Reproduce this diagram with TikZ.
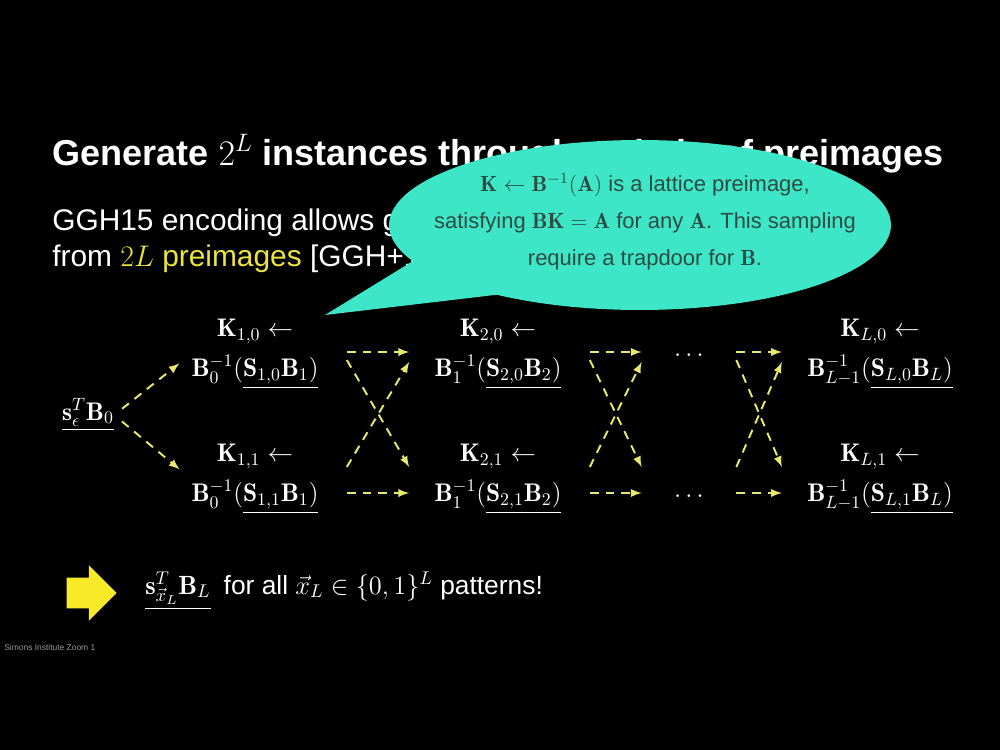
\documentclass[tikz,border=0pt]{standalone}
\usepackage{fix-cm}
\usepackage{amsmath,amssymb}
\usepackage{fontspec}
\setsansfont{Liberation Sans}
\usetikzlibrary{positioning,shapes,arrows}

\definecolor{calloutcyan}{RGB}{62,230,200}
\definecolor{calloutink}{RGB}{45,75,65}
\definecolor{hiyellow}{RGB}{235,228,60}
\definecolor{dashyellow}{RGB}{232,232,110}
\definecolor{bigyellow}{RGB}{248,234,40}

\begin{document}
\begin{tikzpicture}[x=0.02cm, y=-0.02cm,
  slide/.style={inner sep=0pt, text=white, font=\sffamily\fontsize{17}{20}\selectfont},
  mat/.style={inner sep=0pt, text=white, align=center, font=\fontsize{14.5}{22.7}\selectfont},
  flow/.style={draw=dashyellow, line width=1.1pt, dash pattern=on 5pt off 4pt, -latex}]

% Background
\fill[black] (0,0) rectangle (1000,750);

% Title
\node (title) [anchor=base west, inner sep=0pt, text=white, font=\sffamily\bfseries\fontsize{20.5}{24}\selectfont] at (52,165) {Generate $2^L$ instances through a chain of preimages};

% Subtitle
\node (sub1) [slide, anchor=base west] at (52,230) {GGH15 encoding allows generating $2^L$ instances};
\node (sub2) [slide, anchor=base west] at (52,266) {from \textcolor{hiyellow}{$2L$ preimages} [GGH+15]};

% Callout
\node (note) [ellipse callout, fill=calloutcyan, minimum width=10.04cm, minimum height=3.4cm, callout absolute pointer={(325,315)}, callout pointer arc=30] at (640,225) {};
\node (notetext) [align=center, text=calloutink, font=\sffamily\fontsize{12.5}{21}\selectfont] at (645,222) {$\mathbf{K}\leftarrow\mathbf{B}^{-1}(\mathbf{A})$ is a lattice preimage,\\ satisfying $\mathbf{BK}=\mathbf{A}$ for any $\mathbf{A}$. This sampling\\ require a trapdoor for $\mathbf{B}$.};

% Start
\node (s0) [mat] at (88,415) {$\underline{\mathbf{s}_\epsilon^T\mathbf{B}_0}$};

% Column 1
\node (k10) [mat] at (255,354) {$\mathbf{K}_{1,0}\leftarrow$\\ $\mathbf{B}_0^{-1}(\underline{\mathbf{S}_{1,0}\mathbf{B}_1)}$};
\node (k11) [mat] at (255,479) {$\mathbf{K}_{1,1}\leftarrow$\\ $\mathbf{B}_0^{-1}(\underline{\mathbf{S}_{1,1}\mathbf{B}_1)}$};

% Column 2
\node (k20) [mat] at (498,354) {$\mathbf{K}_{2,0}\leftarrow$\\ $\mathbf{B}_1^{-1}(\underline{\mathbf{S}_{2,0}\mathbf{B}_2)}$};
\node (k21) [mat] at (498,479) {$\mathbf{K}_{2,1}\leftarrow$\\ $\mathbf{B}_1^{-1}(\underline{\mathbf{S}_{2,1}\mathbf{B}_2)}$};

% Dots
\node (d0) [mat] at (691,356) {$\cdots$};
\node (d1) [mat] at (691,497) {$\cdots$};

% Column L
\node (kL0) [mat] at (880,354) {$\mathbf{K}_{L,0}\leftarrow$\\ $\mathbf{B}_{L-1}^{-1}(\underline{\mathbf{S}_{L,0}\mathbf{B}_L)}$};
\node (kL1) [mat] at (880,479) {$\mathbf{K}_{L,1}\leftarrow$\\ $\mathbf{B}_{L-1}^{-1}(\underline{\mathbf{S}_{L,1}\mathbf{B}_L)}$};

% Arrows from start
\draw[flow, shorten <=0.2cm, shorten >=0.3cm] (s0.east) -- (k10.west);
\draw[flow, shorten <=0.2cm, shorten >=0.3cm] (s0.east) -- (k11.west);

% Crossing 1
\draw[flow] ([shift={(28,-2)}]k10.east) -- ([shift={(-25,-2)}]k20.west);
\draw[flow] ([shift={(28,6)}]k10.east) -- ([shift={(-25,-12)}]k21.west);
\draw[flow] ([shift={(28,-12)}]k11.east) -- ([shift={(-25,8)}]k20.west);
\draw[flow] ([shift={(28,14)}]k11.east) -- ([shift={(-25,14)}]k21.west);

% Crossing 2
\draw[flow] ([shift={(28,-2)}]k20.east) -- ([shift={(-32,-4)}]d0.west);
\draw[flow] ([shift={(28,6)}]k20.east) -- ([shift={(-32,-30)}]d1.west);
\draw[flow] ([shift={(28,-12)}]k21.east) -- ([shift={(-32,6)}]d0.west);
\draw[flow] ([shift={(28,14)}]k21.east) -- ([shift={(-32,-4)}]d1.west);

% Crossing 3
\draw[flow] ([shift={(28,-4)}]d0.east) -- ([shift={(-25,-2)}]kL0.west);
\draw[flow] ([shift={(28,4)}]d0.east) -- ([shift={(-25,-12)}]kL1.west);
\draw[flow] ([shift={(28,-30)}]d1.east) -- ([shift={(-25,8)}]kL0.west);
\draw[flow] ([shift={(28,-4)}]d1.east) -- ([shift={(-25,14)}]kL1.west);

% Conclusion
\node (bigarrow) [single arrow, fill=bigyellow, inner xsep=0pt, inner ysep=0.3cm, minimum height=1.0cm, minimum width=1.1cm, single arrow head indent=0pt] at (84,593) {};
\node (sxl) [mat, anchor=base west, font=\fontsize{15}{18}\selectfont] at (145,594) {$\underline{\mathbf{s}_{\vec{x}_L}^T\mathbf{B}_L}$};
\node (forall) [slide, right=0.25cm of sxl.base east, anchor=base west, font=\sffamily\fontsize{15}{18}\selectfont] {for all $\vec{x}_L\in\{0,1\}^L$ patterns!};

% Credit
\node (credit) [anchor=west, inner sep=0pt, text=gray!80, font=\sffamily\fontsize{4.8}{5}\selectfont] at (4,647) {Simons Institute Zoom 1};
\end{tikzpicture}
\end{document}
